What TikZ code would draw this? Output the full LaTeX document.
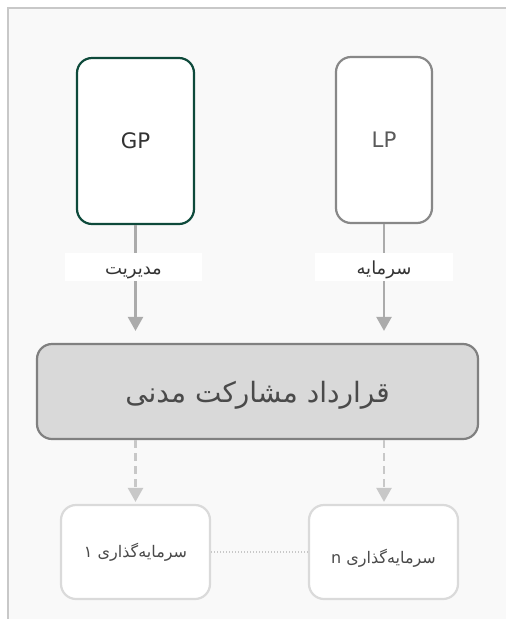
\documentclass[tikz,border=0pt]{standalone}
\usepackage{fontspec}
\setmainfont{DejaVu Sans}
\newfontfamily\arabicfont[Script=Arabic]{DejaVu Sans}
\TeXXeTstate=1
\usetikzlibrary{arrows.meta}

\definecolor{pagebg}{HTML}{F9F9F9}
\definecolor{framegray}{HTML}{C8C8C8}
\definecolor{gpgreen}{HTML}{0E4A3B}
\definecolor{lpgray}{HTML}{888888}
\definecolor{flowgray}{HTML}{ABABAB}
\definecolor{dashgray}{HTML}{C8C8C8}
\definecolor{contractfill}{HTML}{D9D9D9}
\definecolor{contractedge}{HTML}{808080}
\definecolor{unitedge}{HTML}{DADADA}
\definecolor{textdark}{HTML}{333333}
\definecolor{textmid}{HTML}{4A4A4A}
\definecolor{textlight}{HTML}{5A5A5A}

\newcommand\pxu{0.75pt}

\tikzset{
  partner/.style={rectangle, rounded corners=15*\pxu, fill=white,
    line width=2.2*\pxu, inner sep=0pt, minimum height=166*\pxu,
    font=\fontsize{16}{18}\selectfont},
  flowlabel/.style={rectangle, fill=white, draw=none, inner sep=0pt,
    minimum width=137*\pxu, minimum height=28*\pxu,
    text height=13.5pt, text depth=3pt,
    font=\arabicfont\fontsize{13.5}{15}\selectfont, text=textdark},
  contractbox/.style={rectangle, rounded corners=15*\pxu, fill=contractfill,
    draw=contractedge, line width=2.2*\pxu, inner sep=0pt,
    minimum width=441*\pxu, minimum height=95*\pxu,
    text height=22pt, text depth=5pt,
    font=\arabicfont\fontsize{21}{25}\selectfont, text=textmid},
  unitbox/.style={rectangle, rounded corners=15*\pxu, fill=white,
    draw=unitedge, line width=2.2*\pxu, inner sep=0pt,
    minimum width=149*\pxu, minimum height=94*\pxu,
    text height=11pt, text depth=3pt,
    font=\arabicfont\fontsize{12}{14}\selectfont, text=textmid},
  flow/.style={draw=flowgray, line width=2.4*\pxu},
  flowtip/.style={-{Triangle[width=15*\pxu, length=14*\pxu]}},
  dashflow/.style={draw=dashgray, line width=2.4*\pxu,
    dash pattern=on 8*\pxu off 5*\pxu},
  link/.style={draw=dashgray, line width=1.2*\pxu,
    dash pattern=on 1.2*\pxu off 1.8*\pxu}
}

\begin{document}
\begin{tikzpicture}[x=\pxu, y=-\pxu]
  % canvas and the open frame around the content
  \useasboundingbox (0,0) rectangle (506,619);
  \fill[white] (0,0) rectangle (506,619);
  \fill[pagebg] (8,8) rectangle (530,640);
  \draw[framegray, line width=2*\pxu] (8,640) -- (8,8) -- (530,8);

  % partners
  \node[partner, draw=gpgreen, minimum width=117*\pxu, text=textdark] (gp) at (135.5,141) {GP};
  \node[partner, draw=lpgray, minimum width=96*\pxu, text=textlight] (lp) at (384,140) {LP};

  % labels on the contributions
  \node[flowlabel] (mgmt) at (133.5,267) {\beginR مدیریت\endR};
  \node[flowlabel, minimum width=138*\pxu] (capital) at (384,267) {\beginR سرمایه\endR};

  % the contract
  \node[contractbox] (contract) at (257.5,391.5) {\beginR قرارداد مشارکت مدنی\endR};

  % investment units
  \node[unitbox] (unit1) at (135.5,552) {\beginR سرمایه‌گذاری ۱\endR};
  \node[unitbox, text height=20pt] (unitn) at (383.5,552) {\beginR سرمایه‌گذاری \beginL n\endL\endR};

  % contributions into the contract
  \draw[flow] (gp.south) -- (gp.south |- mgmt.north);
  \draw[flow, flowtip, shorten >=12*\pxu] (gp.south |- mgmt.south) -- (gp.south |- contract.north);
  \draw[flow] (lp.south) -- (lp.south |- capital.north);
  \draw[flow, flowtip, shorten >=12*\pxu] (lp.south |- capital.south) -- (lp.south |- contract.north);

  % contract to investment units
  \draw[dashflow, flowtip, shorten >=2*\pxu] (gp.south |- contract.south) -- (gp.south |- unit1.north);
  \draw[dashflow, flowtip, shorten >=2*\pxu] (lp.south |- contract.south) -- (lp.south |- unitn.north);

  % series of units
  \draw[link] (unit1.east) -- (unitn.west);
\end{tikzpicture}
\end{document}
